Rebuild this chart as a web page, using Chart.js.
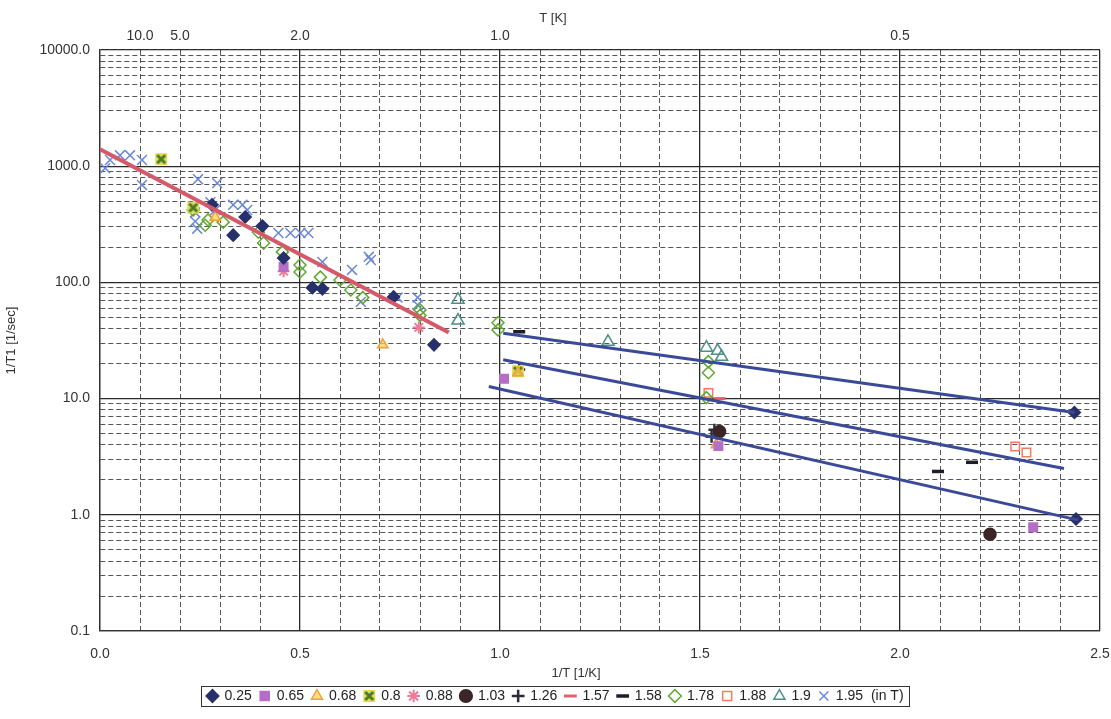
<!DOCTYPE html>
<html>
<head>
<meta charset="utf-8">
<script src="https://cdn.jsdelivr.net/npm/chart.js@4.4.1/dist/chart.umd.min.js"></script>
<style>
  html, body { margin: 0; padding: 0; background: #ffffff; }
  #wrap { width: 1111px; height: 719px; position: relative; }
</style>
</head>
<body>
<div id="wrap"><canvas id="c" width="1111" height="719"></canvas></div>
<script>
// Relaxation rate 1/T1 versus inverse temperature, one series per field (T)
const fieldLabels = ['0.25', '0.65', '0.68', '0.8', '0.88', '1.03', '1.26', '1.57', '1.58', '1.78', '1.88', '1.9', '1.95'];

// [1/T (1/K), 1/T1 (1/sec)]
const s025 = [[0.28, 465], [0.333, 255], [0.363, 365], [0.406, 305], [0.459, 162], [0.531, 90], [0.556, 88], [0.734, 75], [0.835, 29], [2.436, 7.6], [2.44, 0.92]];
const s065 = [[0.459, 136], [1.01, 14.8], [1.546, 3.9], [2.333, 0.78]];
const s068 = [[0.288, 363], [0.707, 29], [1.045, 16.7], [1.541, 4.0]];
const s08 = [[0.153, 1150], [0.233, 440], [1.045, 17.2]];
const s088 = [[0.459, 125], [0.797, 41]];
const s103 = [[1.549, 5.2], [2.225, 0.68]];
const s126 = [[1.048, 17.8], [1.536, 5.4], [1.529, 4.7]];
const s157 = [[1.549, 10.0]];
const s158 = [[1.048, 37.6], [2.095, 2.36], [2.18, 2.83]];
const s178 = [[0.233, 420], [0.27, 345], [0.263, 310], [0.308, 330], [0.396, 270], [0.409, 218], [0.456, 183], [0.5, 141], [0.5, 123], [0.551, 111], [0.6, 105], [0.627, 86], [0.657, 74], [0.80, 58], [0.80, 52], [0.995, 45], [0.995, 39], [1.521, 20.8], [1.521, 16.7], [1.516, 10.2]];
const s188 = [[1.521, 11.2], [2.288, 3.87], [2.316, 3.44]];
const s19 = [[0.895, 71], [0.895, 47], [1.27, 30.8], [1.516, 27.4], [1.544, 25.8], [1.554, 22.9]];
const s195 = [[0.013, 962], [0.025, 1130], [0.05, 1240], [0.075, 1240], [0.105, 1130], [0.105, 690], [0.245, 773], [0.293, 715], [0.238, 400], [0.238, 335], [0.243, 290], [0.276, 490], [0.288, 420], [0.333, 465], [0.356, 465], [0.368, 420], [0.446, 266], [0.476, 266], [0.501, 266], [0.521, 266], [0.556, 150], [0.63, 128], [0.652, 68], [0.672, 166], [0.677, 156], [0.744, 74], [0.794, 74], [0.794, 64]];

// Fitted trend lines: [start, end]
const fitLow = [[0.0, 1400], [0.872, 37]];
const fitHigh1 = [[1.008, 36.5], [2.436, 7.6]];
const fitHigh2 = [[1.008, 21.6], [2.41, 2.5]];
const fitHigh3 = [[0.972, 12.7], [2.446, 0.9]];

// Tick values
const xTicks = Array.from({length: 26}, (_, i) => i / 10);
const topTicks = [0.1, 0.2, 0.5, 1.0, 2.0];
const decades = [-1, 0, 1, 2, 3];
const yTicks = [];
decades.forEach(e => { for (let m = 1; m <= 9; m++) yTicks.push(+(m * Math.pow(10, e)).toPrecision(6)); });
yTicks.push(10000);

const FONT = "'Liberation Sans', Arial, Helvetica, sans-serif";
Chart.defaults.font.family = FONT;
Chart.defaults.font.size = 14;
Chart.defaults.color = '#333333';

const pts = arr => arr.map(([x, y]) => ({x, y}));

// yellow-backed bold cross marker
function boxedCross() {
  const c = document.createElement('canvas');
  c.width = 14; c.height = 14;
  const g = c.getContext('2d');
  g.fillStyle = '#e4dc55';
  g.fillRect(1, 1, 12, 12);
  g.strokeStyle = '#4b7a2a';
  g.lineWidth = 3;
  g.beginPath();
  g.moveTo(3, 3); g.lineTo(11, 11);
  g.moveTo(11, 3); g.lineTo(3, 11);
  g.stroke();
  return c;
}
const crossMarker = boxedCross();

function series(label, data, style) {
  return Object.assign({
    label, data: pts(data), showLine: false, order: 1,
    pointRadius: 5, pointHoverRadius: 5, borderWidth: 1.5
  }, style);
}
function fit(data, color, width) {
  return {
    label: '_fit', data: pts(data), showLine: true, order: -1,
    borderColor: color, borderWidth: width, pointRadius: 0, pointHoverRadius: 0,
    fill: false, tension: 0
  };
}

const datasets = [
  series(fieldLabels[0], s025, {pointStyle: 'rectRot', backgroundColor: '#27306a', borderColor: '#27306a', pointRadius: 6}),
  series(fieldLabels[1], s065, {pointStyle: 'rect', backgroundColor: '#b56ec8', borderColor: '#b56ec8', pointRadius: 6}),
  series(fieldLabels[2], s068, {pointStyle: 'triangle', backgroundColor: 'rgba(250,214,90,0.75)', borderColor: '#f0a040', pointRadius: 6}),
  series(fieldLabels[3], s08, {pointStyle: crossMarker, backgroundColor: '#e4dc55', borderColor: '#4b7a2a'}),
  series(fieldLabels[4], s088, {pointStyle: 'star', backgroundColor: '#ee7a98', borderColor: '#ee7a98', pointRadius: 6, borderWidth: 2}),
  series(fieldLabels[5], s103, {pointStyle: 'circle', backgroundColor: '#3b2526', borderColor: '#3b2526', pointRadius: 6}),
  series(fieldLabels[6], s126, {pointStyle: 'cross', backgroundColor: '#2d2b3a', borderColor: '#2d2b3a', pointRadius: 6, borderWidth: 2.5}),
  series(fieldLabels[7], s157, {pointStyle: 'line', backgroundColor: '#e2606e', borderColor: '#e2606e', pointRadius: 6, borderWidth: 3}),
  series(fieldLabels[8], s158, {pointStyle: 'line', backgroundColor: '#1e1e28', borderColor: '#1e1e28', pointRadius: 6, borderWidth: 3.5}),
  series(fieldLabels[9], s178, {pointStyle: 'rectRot', backgroundColor: 'rgba(255,255,255,0)', borderColor: '#5fa832', pointRadius: 6}),
  series(fieldLabels[10], s188, {pointStyle: 'rect', backgroundColor: 'rgba(255,255,255,0)', borderColor: '#f27c5c', pointRadius: 6}),
  series(fieldLabels[11], s19, {pointStyle: 'triangle', backgroundColor: 'rgba(255,255,255,0)', borderColor: '#4d8f88', pointRadius: 7}),
  series(fieldLabels[12], s195, {pointStyle: 'crossRot', backgroundColor: '#6b87d8', borderColor: '#6b87d8', pointRadius: 7, borderWidth: 1.5}),
  fit(fitLow, '#d6596a', 4),
  fit(fitHigh1, '#3b4a98', 3),
  fit(fitHigh2, '#3b4a98', 3),
  fit(fitHigh3, '#3b4a98', 3)
];

const isHalf = v => Math.abs(v * 2 - Math.round(v * 2)) < 1e-6;
const isDecade = v => { const e = Math.log10(v); return Math.abs(e - Math.round(e)) < 1e-6; };

// Axis titles for T and 1/T, plus the frame around the legend
const extras = {
  id: 'extras',
  afterDraw(chart) {
    const {ctx, chartArea: a} = chart;
    const w = a.right - a.left;
    ctx.save();
    ctx.fillStyle = '#333333';
    ctx.font = '13px ' + FONT;
    ctx.textAlign = 'center';
    ctx.textBaseline = 'middle';
    ctx.fillText('T [K]', a.left + w * 0.453, 18);
    ctx.fillText('1/T [1/K]', a.left + w * 0.476, a.bottom + 42);
    const boxes = chart.legend.legendHitBoxes;
    if (boxes && boxes.length) {
      const l = Math.min(...boxes.map(b => b.left)) - 6;
      const r = Math.max(...boxes.map(b => b.left + b.width)) + 6;
      const t = Math.min(...boxes.map(b => b.top)) - 3;
      const btm = Math.max(...boxes.map(b => b.top + b.height)) + 3;
      ctx.strokeStyle = '#333333';
      ctx.lineWidth = 1;
      ctx.strokeRect(Math.round(l) + 0.5, Math.round(t) + 0.5, Math.round(r - l), Math.round(btm - t));
    }
    ctx.restore();
  }
};

new Chart(document.getElementById('c'), {
  type: 'scatter',
  data: {datasets},
  plugins: [extras],
  options: {
    responsive: false,
    animation: false,
    events: [],
    layout: {padding: {left: 0, right: 0, top: 0, bottom: 6}},
    plugins: {
      tooltip: {enabled: false},
      legend: {
        position: 'bottom',
        labels: {
          usePointStyle: true,
          boxWidth: 10,
          boxHeight: 9,
          padding: 8,
          color: '#222222',
          font: {size: 14},
          filter: item => item.text !== '_fit',
          generateLabels(chart) {
            const items = Chart.defaults.plugins.legend.labels.generateLabels(chart).filter(i => i.text !== '_fit');
            items[items.length - 1].text += '  (in T)';
            return items;
          }
        }
      }
    },
    scales: {
      x: {
        type: 'linear', position: 'bottom', min: 0, max: 2.5,
        afterBuildTicks: s => { s.ticks = xTicks.map(value => ({value})); },
        afterFit: s => { s.height = 50; s.paddingRight = 11; },
        ticks: {autoSkip: false, maxRotation: 0, padding: 15, callback: v => isHalf(v) ? v.toFixed(1) : ''},
        grid: {
          drawTicks: false,
          color: c => (c.tick && isHalf(c.tick.value)) ? '#2a2a2a' : '#555555',
          lineWidth: c => (c.tick && isHalf(c.tick.value)) ? 1.3 : 1
        },
        border: {display: true, color: '#333333', width: 1.3,
          dash: c => (c.tick && !isHalf(c.tick.value)) ? [5, 3] : []}
      },
      x2: {
        type: 'linear', position: 'top', min: 0, max: 2.5,
        afterBuildTicks: s => { s.ticks = topTicks.map(value => ({value})); },
        afterFit: s => { s.height = 50; s.paddingRight = 0; },
        ticks: {autoSkip: false, maxRotation: 0, padding: 5, callback: v => (1 / v).toFixed(1)},
        grid: {drawOnChartArea: false, drawTicks: false},
        border: {display: false}
      },
      y: {
        type: 'logarithmic', position: 'left', min: 0.1, max: 10000,
        afterBuildTicks: s => { s.ticks = yTicks.map(value => ({value})); },
        afterFit: s => { s.width = 100; },
        ticks: {autoSkip: false, padding: 10, callback: v => isDecade(v) ? Number(v).toFixed(1) : ''},
        grid: {
          drawTicks: false,
          color: c => (c.tick && isDecade(c.tick.value)) ? '#2a2a2a' : '#555555',
          lineWidth: c => (c.tick && isDecade(c.tick.value)) ? 1.3 : 1
        },
        border: {display: true, color: '#333333', width: 1.3,
          dash: c => (c.tick && !isDecade(c.tick.value)) ? [5, 3] : []},
        title: {display: true, text: '1/T1 [1/sec]', font: {size: 13}, padding: {top: 4, bottom: 0}}
      }
    }
  }
});
</script>
</body>
</html>
